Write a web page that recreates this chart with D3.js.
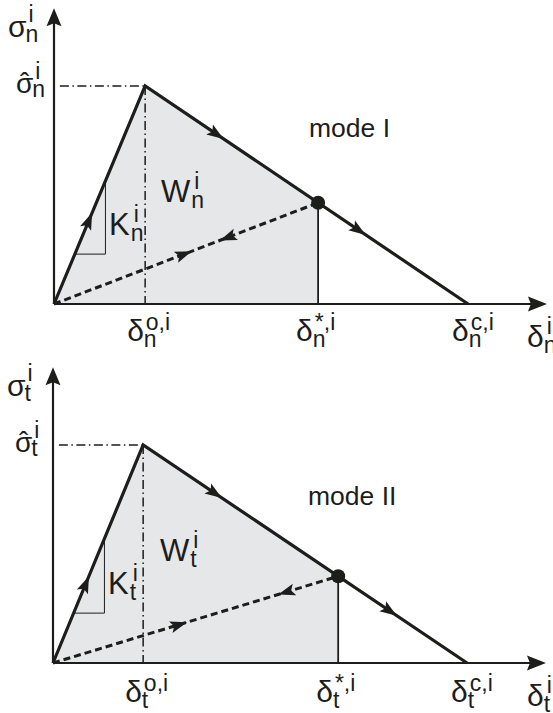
<!DOCTYPE html>
<html><head><meta charset="utf-8">
<script src="https://cdn.jsdelivr.net/npm/d3@7"></script>
<style>
html,body{margin:0;padding:0;background:#fff;}
svg{display:block;}
text{font-family:"Liberation Sans",Arial,Helvetica,sans-serif;fill:#1d1d1b;}
</style></head>
<body>
<svg id="chart" width="553" height="713"></svg>
<script>
// ---- data (one entry per panel) ----
const modeSub    = ["n", "t"];
const modeLabels = ["mode I", "mode II"];
const deltaOnset = [1.86, 1.84];   // δ^{o,i}
const deltaStar  = [5.39, 5.82];   // δ^{*,i}
const deltaCrit  = [8.45, 8.45];   // δ^{c,i}
const sigmaPeak  = [7.52, 7.52];   // σ̂^i
const xTickSup   = ["o,i", "*,i", "c,i"];

// ---- layout ----
const origins = [[54, 304], [53, 663]];
const modeDy  = [-167, -158];
const xLabDy  = [37, 39];
const pxPerX = 49, pxPerY = 29;

const svg = d3.select("#chart");
const INK = "#1d1d1b";

function lab(g, x, y, base, sub, sup, o) {
  o = Object.assign({fs: 30, sfs: 23, subDx: 0, subDy: 6, supDx: 3, supDy: -13, hat: false}, o || {});
  const t = g.append("text").attr("x", x).attr("y", y).attr("font-size", o.fs).text(base);
  const w = t.node().getComputedTextLength();
  if (o.hat) g.append("text").attr("x", x + w / 2).attr("y", y - 1).attr("font-size", o.fs)
    .attr("text-anchor", "middle").text("\u02C6");
  if (sub) g.append("text").attr("x", x + w + o.subDx).attr("y", y + o.subDy).attr("font-size", o.sfs).text(sub);
  if (sup) g.append("text").attr("x", x + w + o.subDx + o.supDx).attr("y", y + o.supDy).attr("font-size", o.sfs).text(sup);
}

function arrowAt(g, x, y, p0, p1, dirSign) {
  const ang = Math.atan2(p1[1] - p0[1], p1[0] - p0[0]) * 180 / Math.PI + (dirSign < 0 ? 180 : 0);
  g.append("path").attr("d", "M9,0 L-8,-6 L-4.5,0 L-8,6 Z").attr("fill", INK)
    .attr("transform", `translate(${x},${y}) rotate(${ang})`);
}

modeSub.forEach((m, i) => {
  const [ox, oy] = origins[i];
  const x = d3.scaleLinear().domain([0, 10]).range([ox, ox + 10 * pxPerX]);
  const y = d3.scaleLinear().domain([0, 10]).range([oy, oy - 10 * pxPerY]);
  const g = svg.append("g");
  const d0 = deltaOnset[i], ds = deltaStar[i], dc = deltaCrit[i], sh = sigmaPeak[i];
  const ss = sh * (dc - ds) / (dc - d0);
  const line = d3.line().x(d => x(d[0])).y(d => y(d[1]));

  // gray dissipated-energy area
  g.append("path").attr("d", line([[0, 0], [d0, sh], [ds, ss], [ds, 0]]) + "Z")
    .attr("fill", "#e6e7e9").attr("stroke", "none");

  // dash-dot guides
  g.append("path").attr("d", line([[0.12, sh], [d0, sh]]))
    .attr("stroke", INK).attr("stroke-width", 1.5).attr("fill", "none").attr("stroke-dasharray", "9,3.5,1.5,3.5");
  g.append("path").attr("d", line([[d0, sh], [d0, 0]]))
    .attr("stroke", INK).attr("stroke-width", 1.5).attr("fill", "none").attr("stroke-dasharray", "9,3.5,1.5,3.5");

  // stiffness triangle
  const kx = 1.05, ky = 1.72;
  g.append("path").attr("d", line([[ky * d0 / sh, ky], [kx, ky], [kx, kx * sh / d0]]))
    .attr("stroke", INK).attr("stroke-width", 1).attr("fill", "none");

  // vertical at δ*
  g.append("path").attr("d", line([[ds, ss], [ds, 0]]))
    .attr("stroke", INK).attr("stroke-width", 1.8).attr("fill", "none");

  // unloading/reloading dashed line
  g.append("path").attr("d", line([[0, 0], [ds, ss]]))
    .attr("stroke", INK).attr("stroke-width", 3).attr("fill", "none").attr("stroke-dasharray", "7,4");

  // bilinear law
  g.append("path").attr("d", line([[0, 0], [d0, sh], [dc, 0]]))
    .attr("stroke", INK).attr("stroke-width", 3.2).attr("fill", "none").attr("stroke-linejoin", "miter");

  // axes
  const yTop = 10.2, xEnd = 10.06;
  g.append("path").attr("d", line([[0, 0], [0, yTop - 0.4]])).attr("stroke", INK).attr("stroke-width", 2.2).attr("fill", "none");
  g.append("path").attr("d", line([[0, 0], [xEnd - 0.25, 0]])).attr("stroke", INK).attr("stroke-width", 2.2).attr("fill", "none");
  g.append("path").attr("d", "M0,0 L7.5,18 L0,15 L-7.5,18 Z").attr("fill", INK)
    .attr("transform", `translate(${x(0)},${y(yTop)})`);
  g.append("path").attr("d", "M0,0 L-19,-7.5 L-16,0 L-19,7.5 Z").attr("fill", INK)
    .attr("transform", `translate(${x(xEnd)},${y(0)})`);

  // direction arrows
  const P = (a, b, f) => [a[0] + (b[0] - a[0]) * f, a[1] + (b[1] - a[1]) * f];
  const o0 = [0, 0], pk = [d0, sh], st = [ds, ss], cr = [dc, 0];
  const addA = (a, b, f, s) => { const p = P(a, b, f); arrowAt(g, x(p[0]), y(p[1]), [x(a[0]), y(a[1])], [x(b[0]), y(b[1])], s); };
  addA(o0, pk, [0.38, 0.36][i], 1);
  addA(pk, cr, 0.22, 1);
  addA(pk, cr, [0.66, 0.76][i], 1);
  addA(o0, st, [0.49, 0.44][i], 1);
  addA(o0, st, [0.66, 0.82][i], -1);

  // point
  g.append("circle").attr("cx", x(ds)).attr("cy", y(ss)).attr("r", 7).attr("fill", INK);

  // labels
  lab(g, ox - 46, oy - 267, "σ", m, "i", {subDx: -1, subDy: 5, supDy: -15});
  lab(g, ox - 38, y(sh) + 7, "σ", m, "i", {fs: 28, subDx: -1, subDy: 4, supDy: -14, hat: true});
  lab(g, ox + 55, oy - 69, "K", m, "i", {fs: 31, subDx: 1, subDy: 6, supDy: -13});
  lab(g, ox + 107, oy - 102, "W", m, "i", {fs: 31, subDx: 1, subDy: 6, supDy: -13});
  g.append("text").attr("x", ox + 255).attr("y", oy + modeDy[i]).attr("font-size", 26.5).text(modeLabels[i]);
  [d0, ds, dc].forEach((d, k) => {
    lab(g, x(d) - [18, 22, 16][k], oy + xLabDy[i], "δ", m, xTickSup[k], {subDx: 0, subDy: 6, supDx: 2, supDy: -11});
  });
  lab(g, 527, oy + 43, "δ", m, "i", {subDx: 0, subDy: 6, supDx: 3, supDy: -13});
});
</script>
</body></html>
